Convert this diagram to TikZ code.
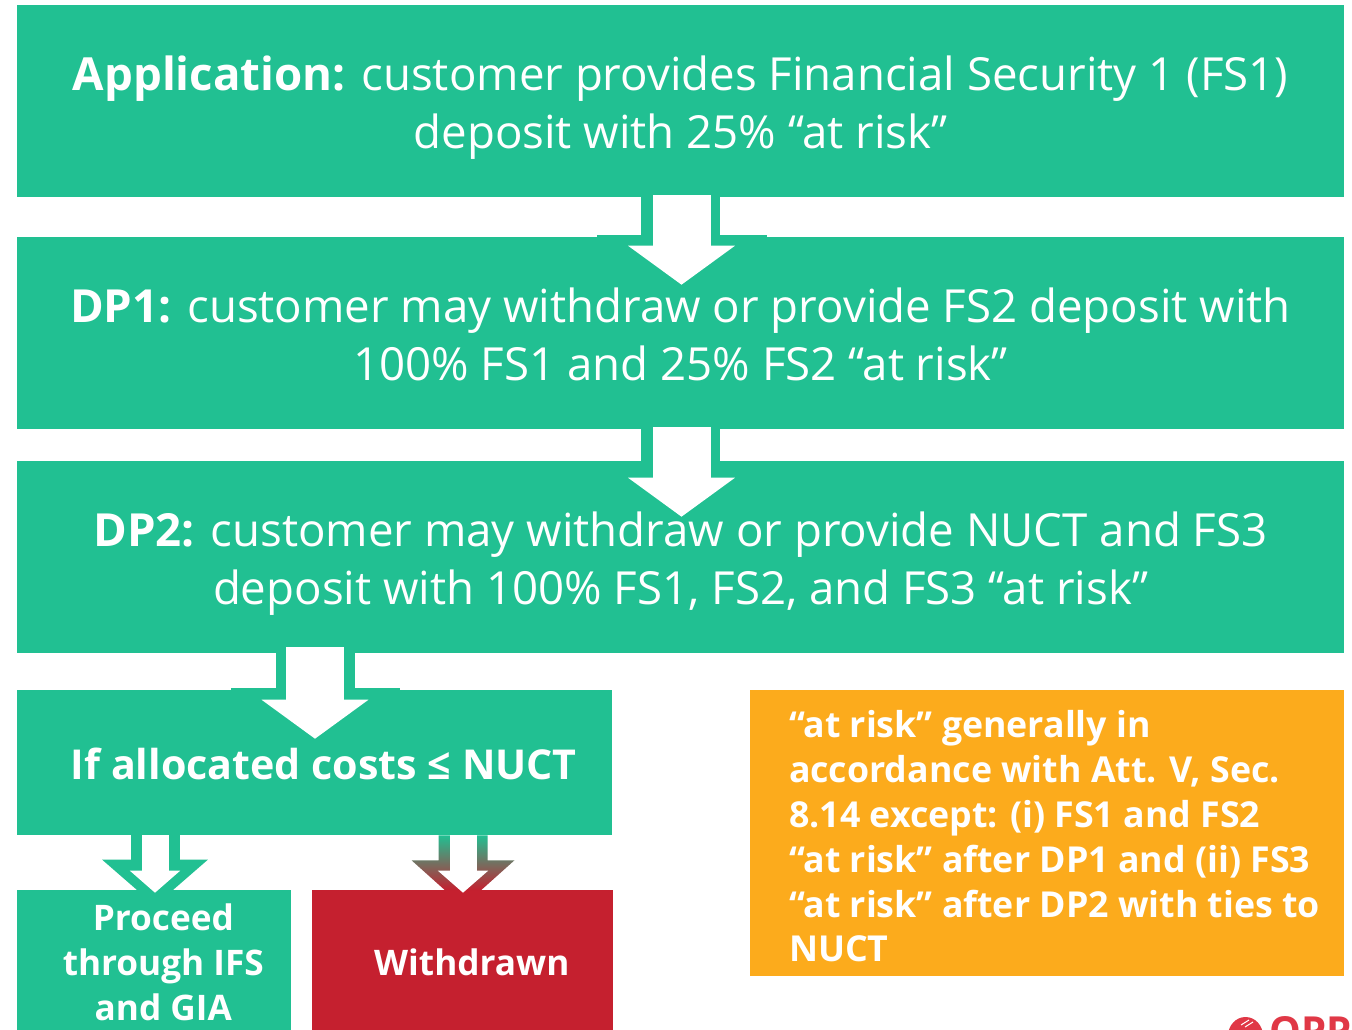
\documentclass[tikz,border=0pt]{standalone}
\usepackage{fontspec}
\setmainfont{Open Sans}
\usetikzlibrary{arrows.meta,calc,positioning}
\definecolor{boxgreen}{RGB}{33,192,146}
\definecolor{boxred}{RGB}{197,32,47}
\definecolor{boxorange}{RGB}{252,171,28}
\definecolor{logored}{RGB}{224,56,70}
\newcommand{\pad}{\hspace*{14pt}}
\newcommand{\topgap}{\rule{0pt}{38pt}}
\newcommand{\botgap}{\rule[-10pt]{0pt}{10pt}}
\tikzset{
  flowbox/.style={fill=#1,text=white,inner sep=0pt,align=center},
  widebox/.style={flowbox=boxgreen,minimum width=995.25pt,minimum height=144pt,font=\fontsize{34.2}{43.5}\selectfont},
  smallbox/.style={flowbox=#1,minimum height=108pt,font=\bfseries\fontsize{26.4}{33.75}\selectfont},
  bigrim/.style={boxgreen,line width=59.25pt},
  bigarrow/.style={white,line width=43.5pt,-{Triangle[length=29.25pt,width=78.75pt]}},
  smallrim/.style={boxgreen,line width=36.75pt,-{Triangle[length=34.5pt,width=77.25pt]}},
  smallarrow/.style={white,line width=20.25pt,-{Triangle[length=16.5pt,width=36.75pt]}}
}
\begin{document}
\begin{tikzpicture}[x=0.75pt,y=-0.75pt]
  \clip (0,0) rectangle (1352,1030);
  \fill[white] (0,0) rectangle (1352,1030);
  % main steps
  \node[widebox] (appl) at (680.5,101) {\topgap\textbf{Application:} customer provides Financial Security 1 (FS1)\\deposit with 25\% “at risk”\botgap};
  \node[widebox] (dpone) at (680.5,333) {\topgap\textbf{DP1:} customer may withdraw or provide FS2 deposit with\\100\% FS1 and 25\% FS2 “at risk”\botgap};
  \node[widebox] (dptwo) at (680.5,557) {\topgap\textbf{DP2:} customer may withdraw or provide NUCT and FS3\\deposit with 100\% FS1, FS2, and FS3 “at risk”\botgap};
  \node[flowbox=boxgreen,minimum width=446.25pt,minimum height=108.75pt,font=\bfseries\fontsize{30.9}{36}\selectfont] (costs) at (314.5,762.5) {\pad\rule{0pt}{26pt}If allocated costs ≤ NUCT};
  % outcomes, running off the page
  \node[smallbox=boxgreen,minimum width=205.5pt] (proceed) at (154,962) {\pad Proceed\\\pad through IFS\\\pad and GIA};
  \node[smallbox=boxred,minimum width=225.75pt] (withdrawn) at (462.5,962) {\pad Withdrawn};
  \node[flowbox=boxorange,minimum width=445.5pt,minimum height=214.5pt] (risk) at (1047,833) {};
  \node[anchor=west,text=white,inner sep=0pt,align=left,font=\bfseries\fontsize{26.8}{33.6}\selectfont] (risktext) at ($(risk.west)+(39,3.5)$) {“at risk” generally in\\accordance with Att. V, Sec.\\8.14 except: (i) FS1 and FS2\\“at risk” after DP1 and (ii) FS3\\“at risk” after DP2 with ties to\\NUCT};
  % arrows between the boxes
  \draw[bigrim] (appl.south) -- ($(dpone.north)+(0,1)$);
  \fill[boxgreen] ($(dpone.north)+(-84,-2)$) rectangle ($(dpone.north)+(86,1)$);
  \draw[bigarrow] ($(appl.south)+(1,-2)$) -- ($(dpone.north)+(1,48)$);
  \draw[bigrim] (dpone.south) -- ($(dptwo.north)+(0,1)$);
  \draw[bigarrow] ($(dpone.south)+(1,-2)$) -- ($(dptwo.north)+(1,56)$);
  \draw[bigrim] (dptwo.south |- 0,653) ++(-365.5,0) coordinate (dropa) -- ($(costs.north)+(0.5,1)$);
  \fill[boxgreen] ($(costs.north)+(-84,-2)$) rectangle ($(costs.north)+(85,1)$);
  \draw[bigarrow] ($(dropa)+(0,-6)$) -- ($(costs.north)+(0.5,49)$);
  \draw[smallrim] ($(costs.south)+(-159.5,0)$) coordinate (dropb) -- ($(proceed.north)+(1,16)$);
  \draw[smallarrow] (dropb) -- ($(proceed.north)+(1,3)$);
  \coordinate (dropc) at ($(costs.south)+(148.5,0)$);
  \shade[top color=boxgreen,bottom color=boxred] ($(dropc)+(-24.5,0)$) -- ($(dropc)+(24.5,0)$) -- ($(dropc)+(24.5,25)$) -- ($(dropc)+(51.5,25)$) -- ($(dropc)+(18,55)$) -- ($(dropc)+(-18,55)$) -- ($(dropc)+(-51.5,25)$) -- ($(dropc)+(-24.5,25)$) -- cycle;
  \draw[smallarrow] (dropc) -- ($(withdrawn.north)+(0.5,3)$);
  % corner of the logo
  \fill[logored] (1245.5,1036) ellipse (17.5 and 19);
  \draw[white,line width=0.75pt] (1241,1025) -- (1249,1020) (1245,1027) -- (1253,1022);
  \node[anchor=north west,inner sep=0pt,text=logored,font=\bfseries\fontsize{30}{36}\selectfont] (logo) at (1269,1016) {OPP};
\end{tikzpicture}
\end{document}
